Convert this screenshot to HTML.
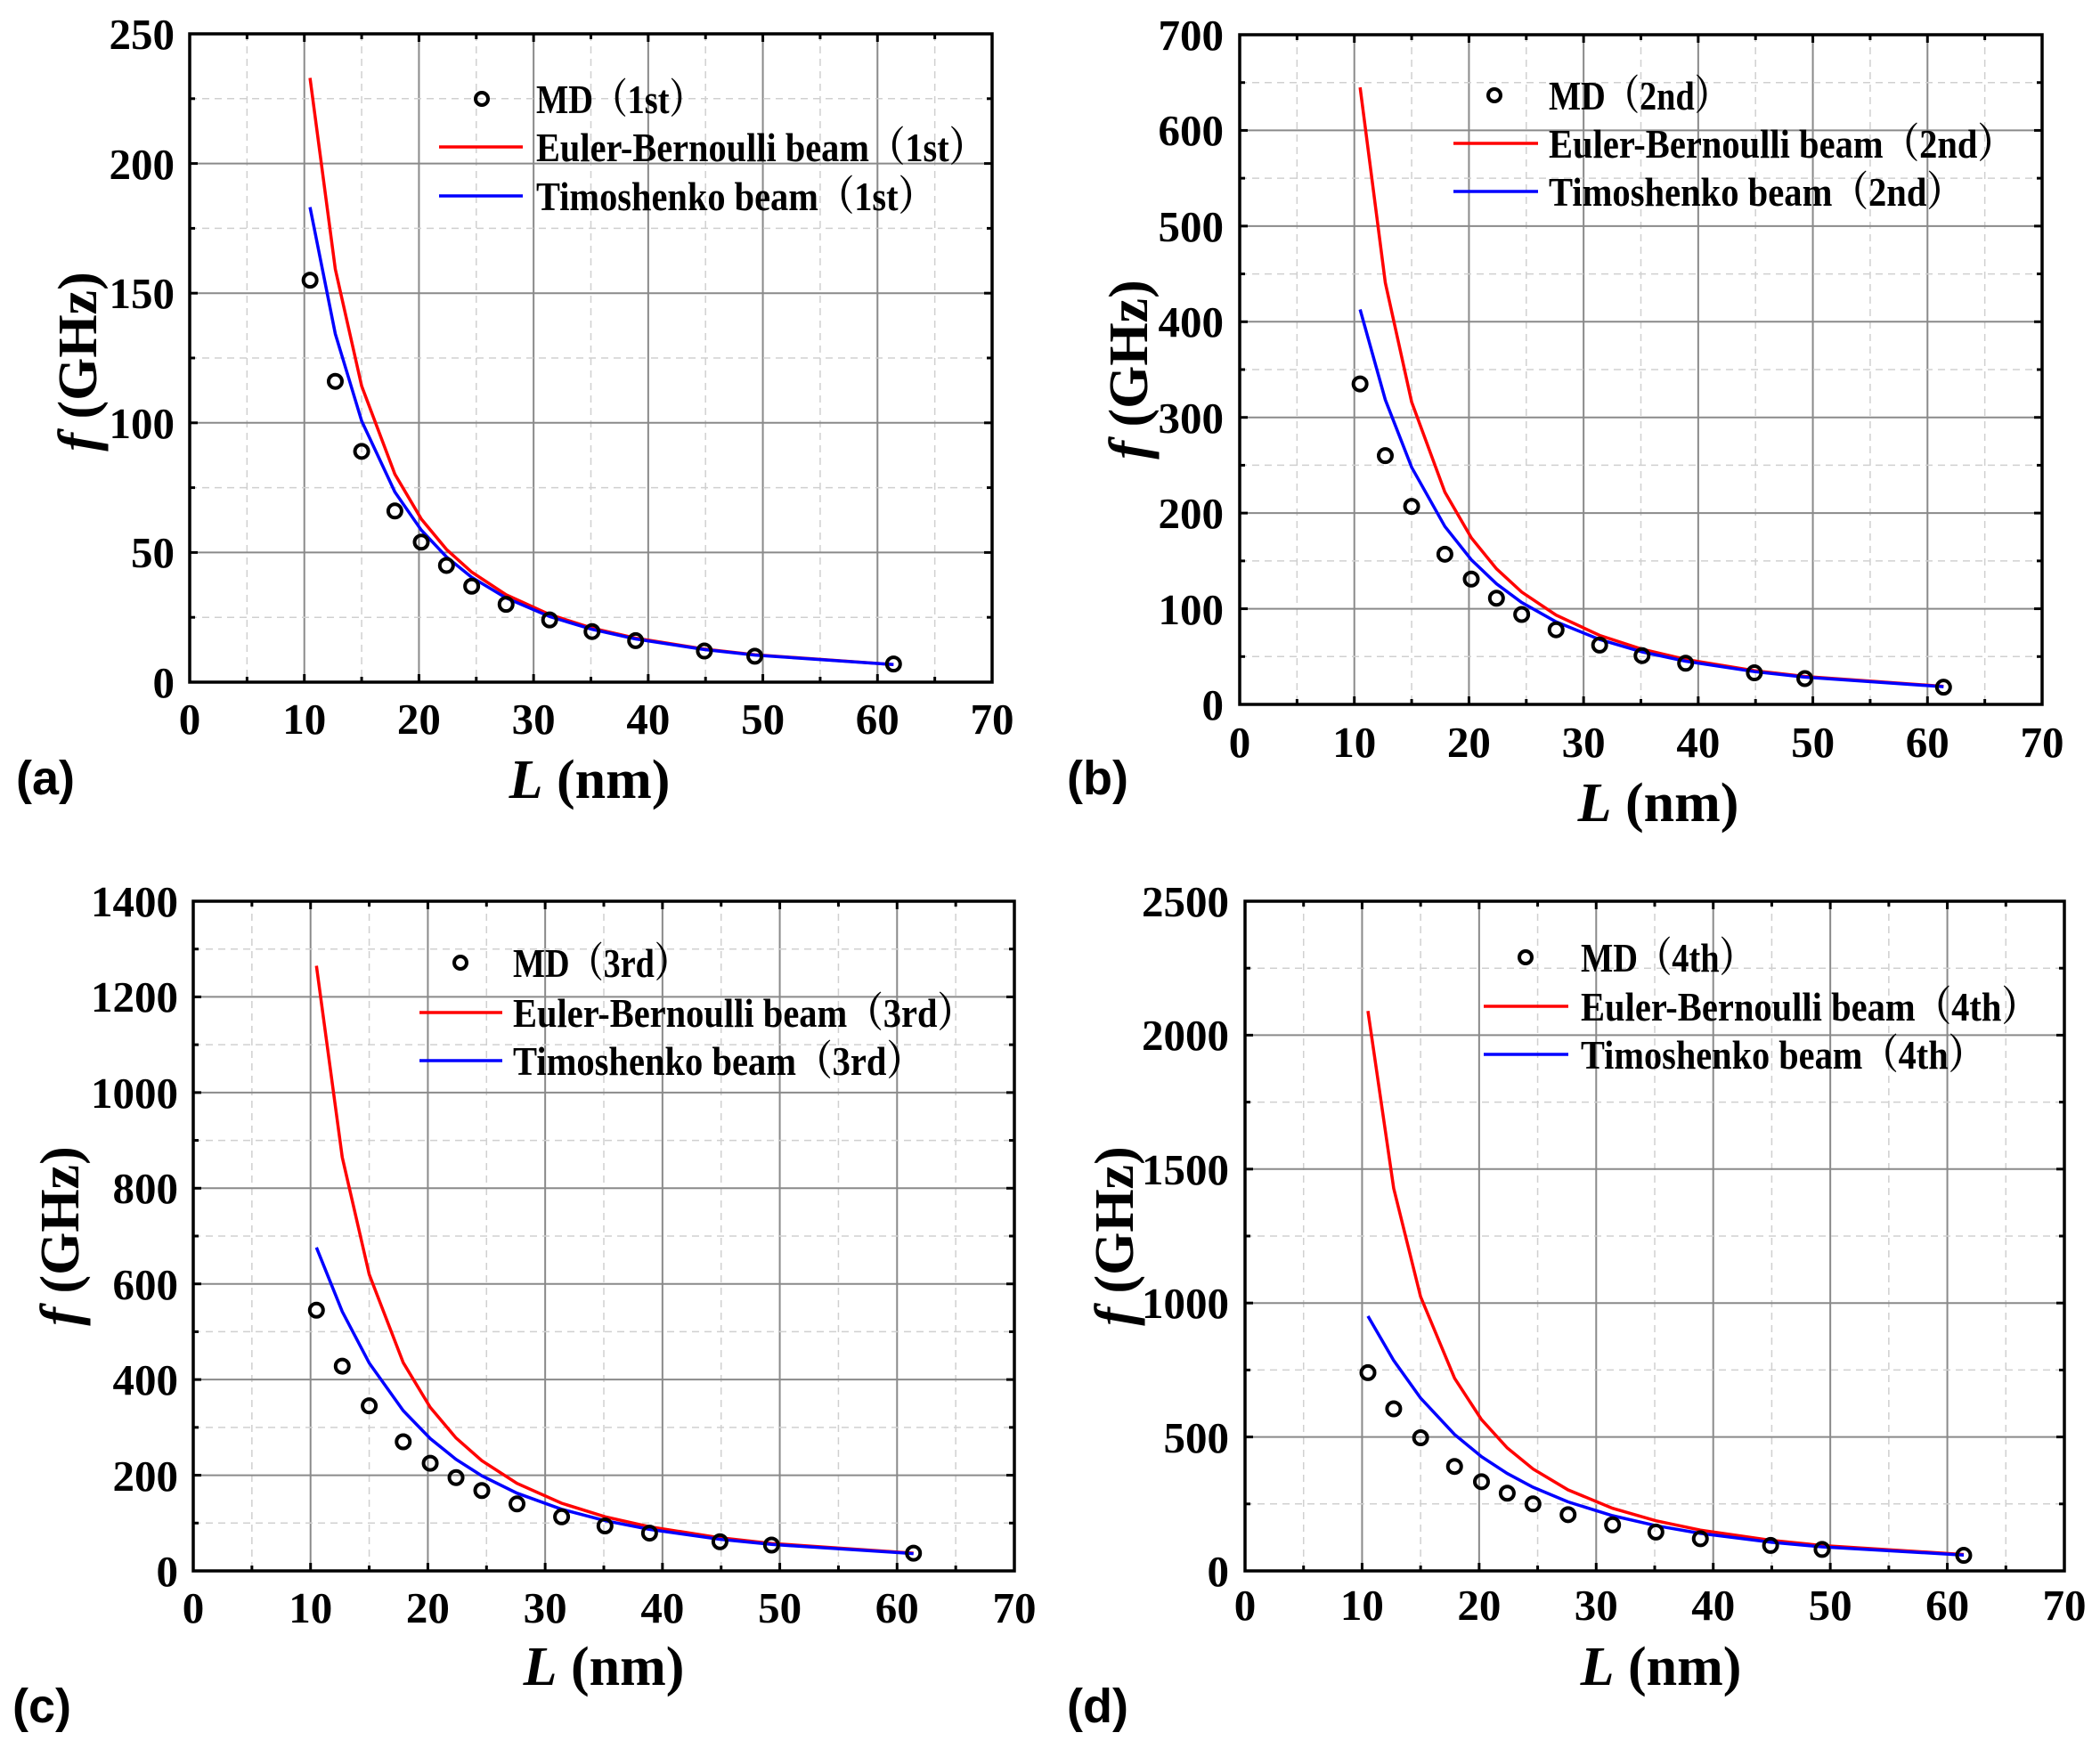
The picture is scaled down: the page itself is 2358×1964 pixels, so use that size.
<!DOCTYPE html>
<html><head><meta charset="utf-8"><style>
html,body{margin:0;padding:0;background:#fff;}
svg{display:block;}
text{font-family:"Liberation Serif","Noto Serif CJK SC",serif;font-weight:bold;fill:#000;}
.tk{font-size:49px;}
.lg{font-size:46px;}
.ti{font-size:62px;}
.pl{font-family:"Liberation Sans",sans-serif;font-size:54px;}
</style></head><body>
<svg id="s" xmlns="http://www.w3.org/2000/svg" width="2358" height="1964" viewBox="0 0 2358 1964">
<g id="plots"></g>
<!-- Panel a -->
<g class="tk" text-anchor="middle">
<text x="213" y="824">0</text><text x="341.7" y="824">10</text><text x="470.4" y="824">20</text><text x="599.1" y="824">30</text><text x="727.9" y="824">40</text><text x="856.6" y="824">50</text><text x="985.3" y="824">60</text><text x="1114" y="824">70</text>
</g>
<g class="tk" text-anchor="end">
<text x="196" y="783">0</text><text x="196" y="637">50</text><text x="196" y="492">100</text><text x="196" y="346">150</text><text x="196" y="201">200</text><text x="196" y="55">250</text>
</g>
<text class="ti" x="662" y="896" text-anchor="middle"><tspan font-style="italic">L</tspan> (nm)</text>
<text class="ti" transform="translate(108,406) rotate(-90)" text-anchor="middle"><tspan font-style="italic">f</tspan> (GHz)</text>
<text class="pl" x="18" y="892">(a)</text>
<g class="lg">
<text x="602" y="127" textLength="188" lengthAdjust="spacingAndGlyphs">MD（1st）</text>
<text x="602" y="181" textLength="504" lengthAdjust="spacingAndGlyphs">Euler-Bernoulli beam（1st）</text>
<text x="602" y="236" textLength="447" lengthAdjust="spacingAndGlyphs">Timoshenko beam（1st）</text>
</g>
<!-- Panel b -->
<g class="tk" text-anchor="middle">
<text x="1392" y="850">0</text><text x="1520.7" y="850">10</text><text x="1649.4" y="850">20</text><text x="1778.1" y="850">30</text><text x="1906.9" y="850">40</text><text x="2035.6" y="850">50</text><text x="2164.3" y="850">60</text><text x="2293" y="850">70</text>
</g>
<g class="tk" text-anchor="end">
<text x="1374" y="808">0</text><text x="1374" y="701">100</text><text x="1374" y="593">200</text><text x="1374" y="486">300</text><text x="1374" y="378">400</text><text x="1374" y="271">500</text><text x="1374" y="163">600</text><text x="1374" y="56">700</text>
</g>
<text class="ti" x="1862" y="922" text-anchor="middle"><tspan font-style="italic">L</tspan> (nm)</text>
<text class="ti" transform="translate(1288,415) rotate(-90)" text-anchor="middle"><tspan font-style="italic">f</tspan> (GHz)</text>
<text class="pl" x="1198" y="892">(b)</text>
<g class="lg">
<text x="1739" y="123" textLength="202" lengthAdjust="spacingAndGlyphs">MD（2nd）</text>
<text x="1739" y="177" textLength="522" lengthAdjust="spacingAndGlyphs">Euler-Bernoulli beam（2nd）</text>
<text x="1739" y="231" textLength="465" lengthAdjust="spacingAndGlyphs">Timoshenko beam（2nd）</text>
</g>
<!-- Panel c -->
<g class="tk" text-anchor="middle">
<text x="217" y="1822">0</text><text x="348.7" y="1822">10</text><text x="480.4" y="1822">20</text><text x="612.1" y="1822">30</text><text x="743.9" y="1822">40</text><text x="875.6" y="1822">50</text><text x="1007.3" y="1822">60</text><text x="1139" y="1822">70</text>
</g>
<g class="tk" text-anchor="end">
<text x="200" y="1781">0</text><text x="200" y="1674">200</text><text x="200" y="1566">400</text><text x="200" y="1459">600</text><text x="200" y="1351">800</text><text x="200" y="1244">1000</text><text x="200" y="1136">1200</text><text x="200" y="1029">1400</text>
</g>
<text class="ti" x="678" y="1892" text-anchor="middle"><tspan font-style="italic">L</tspan> (nm)</text>
<text class="ti" transform="translate(88,1388) rotate(-90)" text-anchor="middle"><tspan font-style="italic">f</tspan> (GHz)</text>
<text class="pl" x="14" y="1934">(c)</text>
<g class="lg">
<text x="576" y="1097" textLength="197" lengthAdjust="spacingAndGlyphs">MD（3rd）</text>
<text x="576" y="1153" textLength="517" lengthAdjust="spacingAndGlyphs">Euler-Bernoulli beam（3rd）</text>
<text x="576" y="1207" textLength="460" lengthAdjust="spacingAndGlyphs">Timoshenko beam（3rd）</text>
</g>
<!-- Panel d -->
<g class="tk" text-anchor="middle">
<text x="1398" y="1819">0</text><text x="1529.4" y="1819">10</text><text x="1660.9" y="1819">20</text><text x="1792.3" y="1819">30</text><text x="1923.7" y="1819">40</text><text x="2055.1" y="1819">50</text><text x="2186.6" y="1819">60</text><text x="2318" y="1819">70</text>
</g>
<g class="tk" text-anchor="end">
<text x="1380" y="1781">0</text><text x="1380" y="1631">500</text><text x="1380" y="1480">1000</text><text x="1380" y="1330">1500</text><text x="1380" y="1179">2000</text><text x="1380" y="1029">2500</text>
</g>
<text class="ti" x="1865" y="1892" text-anchor="middle"><tspan font-style="italic">L</tspan> (nm)</text>
<text class="ti" transform="translate(1272,1388) rotate(-90)" text-anchor="middle"><tspan font-style="italic">f</tspan> (GHz)</text>
<text class="pl" x="1198" y="1934">(d)</text>
<g class="lg">
<text x="1775" y="1091" textLength="194" lengthAdjust="spacingAndGlyphs">MD（4th）</text>
<text x="1775" y="1146" textLength="513" lengthAdjust="spacingAndGlyphs">Euler-Bernoulli beam（4th）</text>
<text x="1775" y="1200" textLength="453" lengthAdjust="spacingAndGlyphs">Timoshenko beam（4th）</text>
</g>
</svg>
<script>
(function(){
var NS="http://www.w3.org/2000/svg",G=document.getElementById("plots");
function el(t,a){var e=document.createElementNS(NS,t);for(var k in a)e.setAttribute(k,a[k]);G.appendChild(e);return e;}
var Ls=[10.5,12.7,15,17.9,20.2,22.4,24.6,27.6,31.4,35.1,38.9,44.9,49.3,61.4];
var P=[
 {x0:213,x1:1114,yb:766,yt:38,ymax:250,maj:50,E:233,k:30,md:[155,116,89,66,54,45,37,30,24,19.5,16,12,10,7],leg:[541,493,587,111,165,220]},
 {x0:1392,x1:2293,yb:791,yt:39,ymax:700,maj:100,E:645,k:62,md:[335,260,207,157,131,111,94,78,62,51,43,33,27,18],leg:[1678,1632,1727,107,161,215]},
 {x0:217,x1:1139,yb:1764,yt:1012,ymax:1400,maj:200,E:1265,k:96,md:[545,428,345,270,225,195,168,140,113,94,79,61,54,37],leg:[517,471,564,1081,1137,1191]},
 {x0:1398,x1:2318,yb:1764,yt:1012,ymax:2500,maj:500,E:2090,k:132,md:[740,605,497,390,333,290,250,210,172,145,120,95,80,58],leg:[1713,1666,1761,1075,1130,1184]}
];
P.forEach(function(p){
 var X=function(v){return p.x0+(p.x1-p.x0)*v/70;},Y=function(v){return p.yb-(p.yb-p.yt)*v/p.ymax;};
 for(var i=1;i<14;i++){var v=i*5,x=X(v),mj=i%2==0;
  el("line",{x1:x,y1:p.yt,x2:x,y2:p.yb,stroke:mj?"#8a8a8a":"#d0d0d0","stroke-width":mj?2:1.5,"stroke-dasharray":mj?"":"8,6"});
  var tl=mj?9:6;
  el("line",{x1:x,y1:p.yb,x2:x,y2:p.yb-tl,stroke:"#000","stroke-width":3});
  el("line",{x1:x,y1:p.yt,x2:x,y2:p.yt+tl,stroke:"#000","stroke-width":3});}
 var n=Math.round(p.ymax/p.maj*2);
 for(var j=1;j<n;j++){var y=Y(j*p.maj/2),mj=j%2==0;
  el("line",{x1:p.x0,y1:y,x2:p.x1,y2:y,stroke:mj?"#8a8a8a":"#d0d0d0","stroke-width":mj?2:1.5,"stroke-dasharray":mj?"":"8,6"});
  var tl=mj?9:6;
  el("line",{x1:p.x0,y1:y,x2:p.x0+tl,y2:y,stroke:"#000","stroke-width":3});
  el("line",{x1:p.x1,y1:y,x2:p.x1-tl,y2:y,stroke:"#000","stroke-width":3});}
 el("rect",{x:p.x0,y:p.yt,width:p.x1-p.x0,height:p.yb-p.yt,fill:"none",stroke:"#000","stroke-width":3.5});
 var pe=[],pt=[];
 Ls.forEach(function(L){var e=p.E*Math.pow(10.5/L,2),t=e/(1+p.k/(L*L));pe.push(X(L).toFixed(1)+","+Y(e).toFixed(1));pt.push(X(L).toFixed(1)+","+Y(t).toFixed(1));});
 el("polyline",{points:pe.join(" "),fill:"none",stroke:"#ff0000","stroke-width":3.5});
 el("polyline",{points:pt.join(" "),fill:"none",stroke:"#0000ff","stroke-width":3.5});
 p.md.forEach(function(v,i){el("circle",{cx:X(Ls[i]),cy:Y(v),r:7.5,fill:"none",stroke:"#000","stroke-width":4});});
 var g=p.leg;
 el("circle",{cx:g[0],cy:g[3],r:7,fill:"none",stroke:"#000","stroke-width":4});
 el("line",{x1:g[1],y1:g[4],x2:g[2],y2:g[4],stroke:"#ff0000","stroke-width":3.5});
 el("line",{x1:g[1],y1:g[5],x2:g[2],y2:g[5],stroke:"#0000ff","stroke-width":3.5});
});
})();
</script>
</body></html>
